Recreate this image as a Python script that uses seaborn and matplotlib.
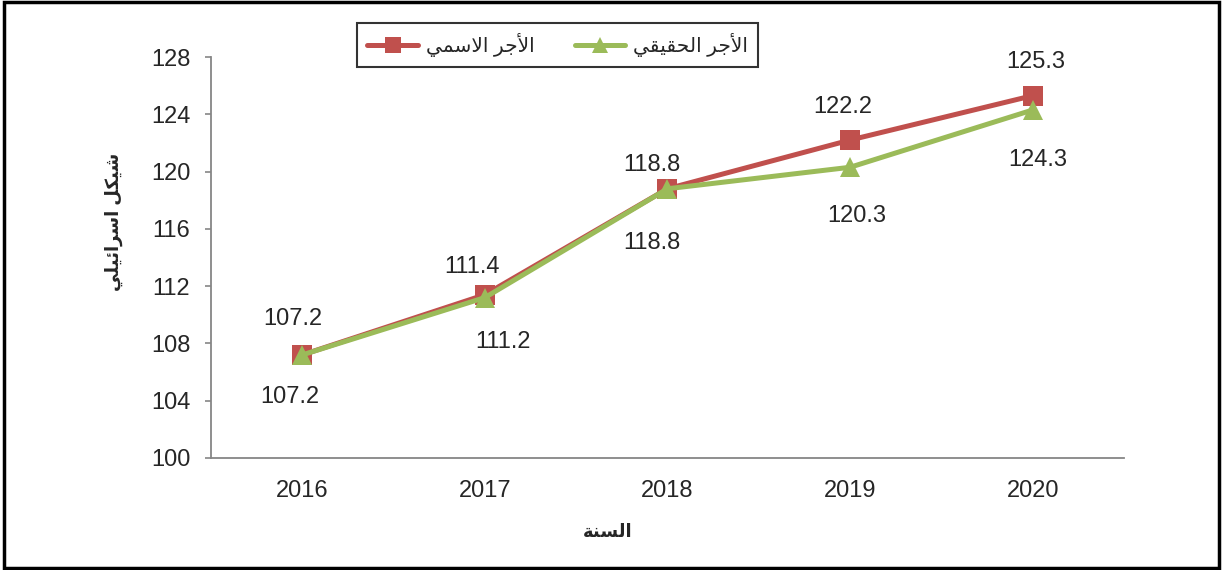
import matplotlib
matplotlib.use("Agg")
import matplotlib.pyplot as plt
import seaborn as sns
import pandas as pd
from matplotlib.patches import Rectangle
from matplotlib.lines import Line2D

years = [2016, 2017, 2018, 2019, 2020]
nominal = [107.2, 111.4, 118.8, 122.2, 125.3]
real = [107.2, 111.2, 118.8, 120.3, 124.3]
nominal_name = "الأجر الاسمي"
real_name = "الأجر الحقيقي"
x_title = "السنة"
y_title = "شيكل اسرائيلي"
y_ticks = [100, 104, 108, 112, 116, 120, 124, 128]

# matplotlib does no arabic shaping, so pick presentation forms by hand
FORMS = {
    "ا": ("\uFE8D", "\uFE8E", None, None),
    "أ": ("\uFE83", "\uFE84", None, None),
    "ر": ("\uFEAD", "\uFEAE", None, None),
    "ة": ("\uFE93", "\uFE94", None, None),
    "ل": ("\uFEDD", "\uFEDE", "\uFEDF", "\uFEE0"),
    "ج": ("\uFE9D", "\uFE9E", "\uFE9F", "\uFEA0"),
    "س": ("\uFEB1", "\uFEB2", "\uFEB3", "\uFEB4"),
    "م": ("\uFEE1", "\uFEE2", "\uFEE3", "\uFEE4"),
    "ي": ("\uFEF1", "\uFEF2", "\uFEF3", "\uFEF4"),
    "ح": ("\uFEA1", "\uFEA2", "\uFEA3", "\uFEA4"),
    "ق": ("\uFED5", "\uFED6", "\uFED7", "\uFED8"),
    "ش": ("\uFEB5", "\uFEB6", "\uFEB7", "\uFEB8"),
    "ك": ("\uFED9", "\uFEDA", "\uFEDB", "\uFEDC"),
    "ئ": ("\uFE89", "\uFE8A", "\uFE8B", "\uFE8C"),
    "ن": ("\uFEE5", "\uFEE6", "\uFEE7", "\uFEE8"),
}
LAM_ALEF = {"ا": ("\uFEFB", "\uFEFC"), "أ": ("\uFEF7", "\uFEF8")}


def shape(text):
    units = []
    i = 0
    while i < len(text):
        if text[i] == "ل" and i + 1 < len(text) and text[i + 1] in LAM_ALEF:
            units.append(("LA", text[i + 1]))
            i += 2
        else:
            units.append((text[i], None))
            i += 1
    out = []
    for k, (c, a) in enumerate(units):
        prev = units[k - 1][0] if k > 0 else None
        nxt = units[k + 1][0] if k + 1 < len(units) else None
        joins_prev = prev in FORMS and FORMS[prev][2] is not None
        if c == "LA":
            out.append(LAM_ALEF[a][1 if joins_prev else 0])
            continue
        if c not in FORMS:
            out.append(c)
            continue
        iso, fin, ini, med = FORMS[c]
        joins_next = ini is not None and (nxt in FORMS or nxt == "LA")
        if joins_prev and joins_next:
            out.append(med)
        elif joins_prev:
            out.append(fin)
        elif joins_next:
            out.append(ini)
        else:
            out.append(iso)
    return "".join(reversed(out))


sns.set_style("white")
plt.rcParams["font.family"] = ["Liberation Sans", "DejaVu Sans"]

red = "#C0504D"
green = "#9BBB59"
grey = "#868686"

df = pd.DataFrame({
    "year": years * 2,
    "value": nominal + real,
    "series": [nominal_name] * len(years) + [real_name] * len(years),
})

fig = plt.figure(figsize=(12.23, 5.70), dpi=100)
ax = fig.add_axes([0.1725, 0.1965, 0.7465, 0.7035])

sns.lineplot(data=df, x="year", y="value", hue="series", style="series",
             palette={nominal_name: red, real_name: green},
             markers={nominal_name: "s", real_name: "^"}, dashes=False,
             linewidth=3.6, markersize=15, markeredgewidth=0, ax=ax, legend=False)

# label offsets in points
red_off = [(-7, 26), (-9, 20), (-11, 17), (-5, 24), (2, 24)]
green_off = [(-9, -30), (13, -32), (-11, -39), (5, -35), (4, -36)]
for xv, yv, off in zip(years, nominal, red_off):
    ax.annotate(f"{yv:.1f}", (xv, yv), xytext=off, textcoords="offset points",
                ha="center", va="center", fontsize=17)
for xv, yv, off in zip(years, real, green_off):
    ax.annotate(f"{yv:.1f}", (xv, yv), xytext=off, textcoords="offset points",
                ha="center", va="center", fontsize=17)

ax.set_xlim(years[0] - 0.5, years[-1] + 0.5)
ax.set_ylim(y_ticks[0], y_ticks[-1])
ax.set_yticks(y_ticks)
ax.set_xticks(years)
ax.set_xticklabels([str(y) for y in years])
ax.set_xticks([y - 0.5 for y in years] + [years[-1] + 0.5], minor=True)
ax.tick_params(axis="x", which="major", length=0, pad=16, labelsize=17)
ax.tick_params(axis="x", which="minor", length=5, width=1.2, color=grey, direction="out")
ax.tick_params(axis="y", length=4, width=1.2, color=grey, pad=11, labelsize=17, direction="out", left=True)

for s in ["top", "right"]:
    ax.spines[s].set_visible(False)
for s in ["left", "bottom"]:
    ax.spines[s].set_color(grey)
    ax.spines[s].set_linewidth(1.3)

ax.set_xlabel(shape(x_title), fontsize=13, fontweight="bold")
ax.xaxis.set_label_coords(0.434, -0.165)
ax.set_ylabel(shape(y_title), fontsize=13, fontweight="bold")
ax.yaxis.set_label_coords(-0.096, 0.59)

handles = [
    Line2D([], [], color=red, lw=3.6, marker="s", markersize=12, markeredgewidth=0),
    Line2D([], [], color=green, lw=3.6, marker="^", markersize=12, markeredgewidth=0),
]
leg = fig.legend(handles, [shape(nominal_name), shape(real_name)], ncol=2,
                 loc="center", bbox_to_anchor=(0.456, 0.921), fontsize=14.5,
                 frameon=True, fancybox=False, edgecolor="black", handlelength=2.5,
                 columnspacing=2.0, handletextpad=0.4, borderpad=0.5)
leg.get_frame().set_linewidth(1.5)

fig.patches.append(Rectangle((0.003, 0.003), 0.994, 0.993, transform=fig.transFigure,
                             fill=False, edgecolor="black", linewidth=2.5))

fig.savefig("out.png", dpi=100)
